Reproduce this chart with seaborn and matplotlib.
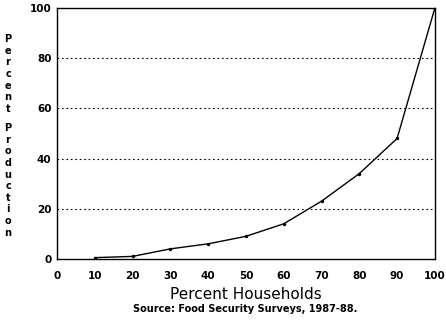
import matplotlib
matplotlib.use("Agg")
import matplotlib.pyplot as plt
import seaborn as sns
import pandas as pd

households = [10, 20, 30, 40, 50, 60, 70, 80, 90, 100]
production = [0.5, 1, 4, 6, 9, 14, 23, 34, 48, 100]

df = pd.DataFrame({"households": households, "production": production})

sns.set_style("white")
plt.rcParams["font.family"] = ["DejaVu Sans"]
plt.rcParams["text.color"] = "black"
plt.rcParams["xtick.color"] = "black"
plt.rcParams["ytick.color"] = "black"
plt.rcParams["axes.labelcolor"] = "black"

fig = plt.figure(figsize=(4.46, 3.22), dpi=100)
ax = fig.add_axes([0.128, 0.196, 0.847, 0.779])

sns.lineplot(data=df, x="households", y="production", ax=ax, color="black",
             linewidth=1.0, marker="o", markersize=2.5, markeredgewidth=0)

ax.set_xlim(0, 100)
ax.set_ylim(0, 100)
ax.set_xticks(range(0, 101, 10))
ax.set_yticks(range(0, 101, 20))
ax.tick_params(axis="x", direction="in", length=3, width=0.8, pad=9, labelsize=7.5)
ax.tick_params(axis="y", length=0, pad=4, labelsize=7.5)
for lab in ax.get_xticklabels() + ax.get_yticklabels():
    lab.set_fontweight("bold")

for y in [20, 40, 60, 80]:
    ax.axhline(y, color="black", linestyle=(0, (1.5, 2.5)), linewidth=0.8)

for sp in ax.spines.values():
    sp.set_color("black")
    sp.set_linewidth(1.0)

ax.set_xlabel("Percent Households", fontsize=11, labelpad=4)
ax.set_ylabel("")

# stacked vertical y label, as in the original
fig.text(0.018, 0.77, "\n".join("Percent"), ha="center", va="center",
         fontsize=7, fontweight="bold", linespacing=1.2)
fig.text(0.018, 0.44, "\n".join("Production"), ha="center", va="center",
         fontsize=7, fontweight="bold", linespacing=1.2)

fig.text(0.55, 0.03, "Source: Food Security Surveys, 1987-88.", ha="center",
         fontsize=7, fontweight="bold")

fig.savefig("out.png", dpi=100)
